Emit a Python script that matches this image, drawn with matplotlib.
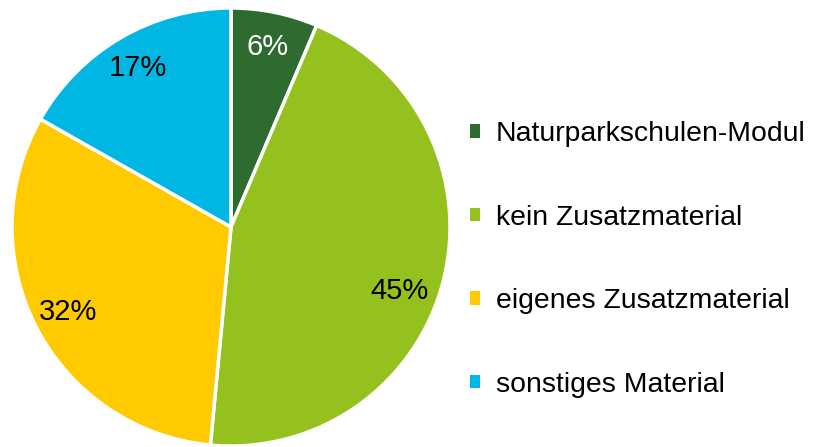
import matplotlib.pyplot as plt
from matplotlib.patches import Patch

plt.rcParams['font.family'] = ['Liberation Sans', 'DejaVu Sans']

categories = ['Naturparkschulen-Modul', 'kein Zusatzmaterial',
              'eigenes Zusatzmaterial', 'sonstiges Material']
shares = [6.4, 45.1, 31.7, 16.8]
colors = ['#2e6b2e', '#95c11f', '#ffcb00', '#00b6e3']
label_colors = ['white', 'black', 'black', 'black']

W, H = 817, 447
fig = plt.figure(figsize=(W / 100, H / 100), dpi=100)

# pie axes placed by pixel centre / radius
cx, cy, r = 231, 227, 219
ax = fig.add_axes([(cx - r) / W, (H - cy - r) / H, 2 * r / W, 2 * r / H])

wedges, texts, autotexts = ax.pie(
    shares, colors=colors, startangle=90, counterclock=False,
    autopct='%.0f%%', pctdistance=0.84,
    wedgeprops=dict(edgecolor='white', linewidth=2.5),
    textprops=dict(fontsize=21))
for t, c in zip(autotexts, label_colors):
    t.set_color(c)
# the big slice label sits a bit lower in the original
autotexts[1].set_position((0.77, -0.29))
ax.set_xlim(-1, 1)
ax.set_ylim(-1, 1)
ax.set_aspect('equal')

handles = [Patch(facecolor=c, edgecolor='none') for c in colors]
fig.legend(handles, categories, loc='center left',
           bbox_to_anchor=(459 / W, 0.5 - 36 / H), frameon=False,
           fontsize=20.4, handlelength=0.35, handleheight=0.35,
           handletextpad=0.55, labelspacing=2.03, borderaxespad=0)

fig.savefig('out.png', dpi=100)
